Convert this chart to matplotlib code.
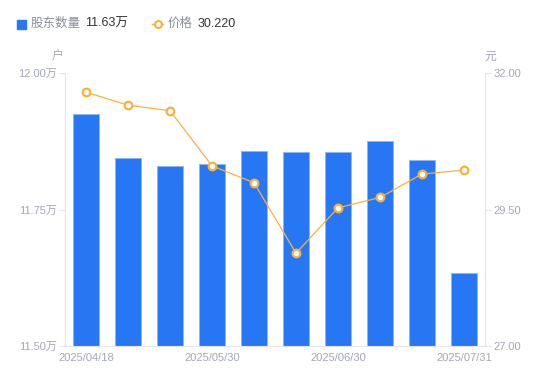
import numpy as np
import matplotlib
matplotlib.use("Agg")
import matplotlib.pyplot as plt
from matplotlib.lines import Line2D
from matplotlib.patches import Rectangle

plt.rcParams['font.family'] = ['Liberation Sans', 'Noto Sans CJK SC', 'DejaVu Sans']

# data
dates = ["2025/04/18", "2025/04/30", "2025/05/20", "2025/05/30", "2025/06/10",
         "2025/06/20", "2025/06/30", "2025/07/10", "2025/07/20", "2025/07/31"]
holders = [11.924, 11.844, 11.829, 11.834, 11.858, 11.855, 11.855, 11.876, 11.841, 11.633]  # 万户
price = [31.65, 31.41, 31.31, 30.30, 29.99, 28.70, 29.53, 29.72, 30.15, 30.22]  # 元
left_ticks = [11.50, 11.75, 12.00]
right_ticks = [27.00, 29.50, 32.00]
shown_dates = [0, 3, 6, 9]

BLUE = "#2777F5"
ORANGE = "#F8B23C"
GRAY = "#A3A6B4"
AXIS = "#E3E5EA"

fig = plt.figure(figsize=(5.5, 3.81), dpi=100)
ax = fig.add_axes([65 / 550, 35 / 381, 420 / 550, 273 / 381])
ax2 = ax.twinx()

x = np.arange(len(dates))
ax.bar(x, holders, width=0.6, color=BLUE, edgecolor="#8DB6F8", linewidth=0.7, zorder=2)
ax.set_xlim(-0.5, len(dates) - 0.5)
ax.set_ylim(11.5, 12.0)
ax.set_yticks(left_ticks)
ax.set_yticklabels([f"{v:.2f}万" for v in left_ticks])
ax.set_xticks(x)
ax.set_xticklabels([d if i in shown_dates else "" for i, d in enumerate(dates)])

ax2.plot(x, price, color=ORANGE, linewidth=0.9, marker="o", markersize=5.5,
         markerfacecolor="white", markeredgecolor=ORANGE, markeredgewidth=1.6, zorder=3)
ax2.set_ylim(27, 32)
ax2.set_yticks(right_ticks)
ax2.set_yticklabels([f"{v:.2f}" for v in right_ticks])

for a in (ax, ax2):
    for s in a.spines.values():
        s.set_visible(False)
    a.tick_params(axis="y", colors=AXIS, labelcolor=GRAY, labelsize=8, length=4, width=0.8, pad=2)
    a.tick_params(axis="x", length=0, labelcolor=GRAY, labelsize=8, pad=5)
ax.spines["left"].set_visible(True)
ax.spines["left"].set_color(AXIS)
ax.spines["bottom"].set_visible(True)
ax.spines["bottom"].set_color(AXIS)
ax2.spines["right"].set_visible(True)
ax2.spines["right"].set_color(AXIS)

# unit labels
fig.text(58 / 550, 1 - 57 / 381, "户", color=GRAY, fontsize=8.5, ha="center", va="center")
fig.text(490 / 550, 1 - 57 / 381, "元", color=GRAY, fontsize=8.5, ha="center", va="center")

# legend
ly = 1 - 24 / 381
fig.patches.append(Rectangle((17 / 550, 1 - 28.5 / 381), 9 / 550, 9 / 381,
                             transform=fig.transFigure, color=BLUE, figure=fig))
fig.text(31 / 550, ly, "股东数量", color="#8A8D99", fontsize=9, va="center")
fig.text(85 / 550, ly, f"{holders[-1]:.2f}万", color="#333333", fontsize=9, va="center")
fig.lines.append(Line2D([152 / 550, 163 / 550], [ly, ly], transform=fig.transFigure,
                        color=ORANGE, linewidth=1, marker="o", markevery=[0], markersize=0))
fig.lines.append(Line2D([157.5 / 550], [ly], transform=fig.transFigure, color=ORANGE,
                        marker="o", markersize=5, markerfacecolor="white",
                        markeredgecolor=ORANGE, markeredgewidth=1.5))
fig.text(168 / 550, ly, "价格", color="#8A8D99", fontsize=9, va="center")
fig.text(198 / 550, ly, f"{price[-1]:.3f}", color="#333333", fontsize=9, va="center")

fig.savefig("out.png", dpi=100)
